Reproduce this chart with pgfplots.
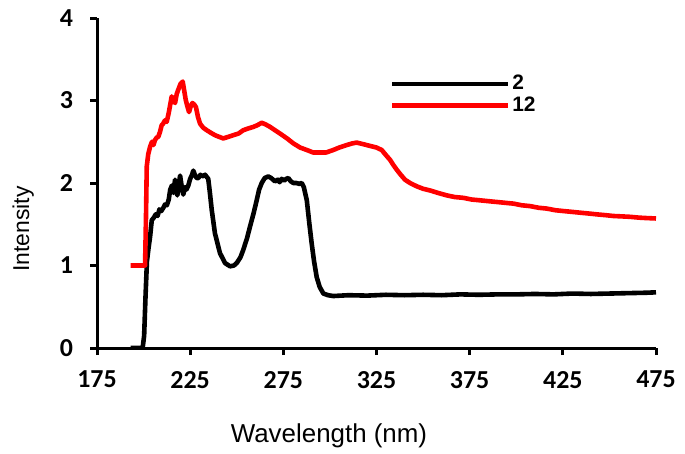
\documentclass[border=0pt]{standalone}
\usepackage{fontspec}
\setmainfont{Liberation Sans}
\newfontfamily\carlito{Carlito}
\usepackage{pgfplots}
\pgfplotsset{compat=1.18}
\definecolor{myred}{RGB}{255,0,0}
\begin{document}
\begin{tikzpicture}
\begin{axis}[
  name=ax,
  at={(0,0)}, anchor=south west,
  scale only axis,
  width=279.5bp, height=165bp,
  xmin=175, xmax=475, ymin=0, ymax=4,
  xtick={175,225,275,325,375,425,475},
  ytick={0,1,2,3,4},
  axis lines=left,
  axis line style={line width=1.5bp,-},
  every tick/.style={line width=1.5bp,black},
  tick align=outside,
  major tick length=3.5bp,
  tick label style={font=\carlito\bfseries\fontsize{13}{15}\selectfont},
  /pgf/number format/assume math mode=true,
  xticklabel style={yshift=-4.5bp},
  yticklabel style={xshift=-5bp},
  xlabel={Wavelength (nm)},
  ylabel={Intensity},
  xlabel style={font=\fontsize{13}{15}\selectfont, at={(axis description cs:0.415,-0.267)}, anchor=center},
  ylabel style={font=\fontsize{11.5}{14}\selectfont, at={(axis description cs:-0.132,0.361)}, anchor=center},
  legend cell align=left,
  legend image code/.code={\draw[#1] (0bp,0bp) -- (58bp,0bp);},
  legend style={draw=none, fill=none, inner sep=0pt, row sep=0pt,
    at={(rel axis cs:0.523,0.834)}, anchor=north west,
    font=\fontsize{10.5}{12}\selectfont\bfseries,
    nodes={inner sep=1bp}},
]
\addplot[black, line width=2.3bp, line join=round] coordinates {
(193,0) (199.5,0) (200.3,0.15) (201,0.6) (201.8,1.05) (202.6,1.2) (203.5,1.35) (204.4,1.55)
(205.5,1.58) (206.5,1.62) (207.5,1.6) (208.5,1.68) (209.5,1.66) (210.6,1.70) (211.5,1.74)
(212.5,1.73) (213.5,1.80) (214.3,1.92) (215.2,1.97) (216,1.88) (216.9,2.04) (217.5,1.95)
(218.1,1.85) (219,2.0) (219.6,2.09) (220.5,1.95) (221.3,1.86) (222.3,1.95) (223,1.92)
(224,1.97) (225,2.05) (226,2.10) (226.7,2.15) (227.5,2.10) (228.5,2.06) (229.4,2.06)
(230.5,2.1) (231.5,2.08) (233,2.10) (234.7,2.05) (235.5,1.9) (236.6,1.67) (238.3,1.39)
(241,1.15) (243.7,1.03) (246.4,0.99) (248.5,1.0) (250,1.03) (252,1.1) (253.5,1.19)
(255.5,1.33) (257.1,1.47) (259,1.63) (260.7,1.79) (262,1.92) (263.4,2.00) (265,2.06)
(266.9,2.08) (268.5,2.06) (270.5,2.02) (272,2.04) (273,2.01) (274.1,2.05) (275.5,2.03)
(276.5,2.05) (277.7,2.06) (279,2.02) (280.4,2.0) (282,2.0) (283.5,1.99) (284.9,2.0)
(286,1.95) (287.6,1.79) (289,1.5) (290.2,1.27) (291.5,1.05) (292.9,0.86) (294.5,0.74)
(296.5,0.66) (299,0.64) (301.8,0.63) (310,0.64) (320,0.635) (330,0.645) (340,0.64)
(350,0.645) (360,0.64) (370,0.65) (380,0.645) (390,0.65) (400,0.65) (410,0.655)
(420,0.65) (430,0.66) (440,0.655) (450,0.66) (460,0.665) (470,0.67) (475,0.675)
};
\addlegendentry{2}
\addplot[myred, line width=2.3bp, line join=round] coordinates {
(193,1.0) (200.8,1.0) (201.3,1.6) (201.7,2.2) (202.5,2.35) (203.5,2.44) (204.5,2.5)
(205.3,2.46) (206.1,2.52) (207,2.55) (207.9,2.56) (208.8,2.62) (209.7,2.70) (210.5,2.72)
(211.5,2.76) (212.4,2.74) (213.5,2.85) (214.3,2.95) (215.1,3.05) (216,3.0) (216.9,2.97)
(217.8,3.08) (218.6,3.13) (219.8,3.2) (221,3.23) (221.8,3.12) (222.6,3.01) (223.5,2.93)
(224.4,2.86) (225.3,2.93) (226.2,2.97) (227.2,2.95) (228.1,2.92) (229.2,2.80) (230.3,2.72)
(232,2.67) (233.9,2.64) (236,2.61) (238.3,2.58) (240.5,2.56) (242.8,2.54) (245.5,2.56)
(248.2,2.58) (251,2.60) (253.5,2.64) (256,2.66) (258.9,2.68) (261,2.70) (263.4,2.73)
(265.5,2.71) (267.9,2.68) (270.5,2.64) (273.2,2.60) (277,2.54) (280.4,2.48) (284,2.43)
(287.6,2.40) (291,2.37) (294.7,2.37) (298,2.37) (301.8,2.40) (305,2.43) (309,2.46)
(312,2.48) (314.4,2.49) (318,2.47) (321.5,2.45) (325,2.43) (327.8,2.40) (330,2.34)
(332.3,2.28) (334,2.22) (335.9,2.16) (338,2.10) (340.3,2.04) (343,2.0) (346.6,1.96)
(350,1.93) (353.7,1.91) (358,1.88) (362.7,1.85) (367,1.83) (371.6,1.82) (376,1.80)
(380.6,1.79) (385,1.78) (389.5,1.77) (394,1.76) (398.5,1.75) (403,1.73) (407.4,1.72)
(412,1.70) (416.4,1.69) (421,1.67) (425.3,1.66) (430,1.65) (434.3,1.64) (439,1.63)
(443.2,1.62) (448,1.61) (452.2,1.60) (457,1.595) (461.1,1.59) (466,1.58) (470,1.575)
(475,1.57)
};
\addlegendentry{12}
\end{axis}
\pgfresetboundingbox
\path (-48.5bp,-53bp) rectangle (294bp,174bp);
\end{tikzpicture}
\end{document}
